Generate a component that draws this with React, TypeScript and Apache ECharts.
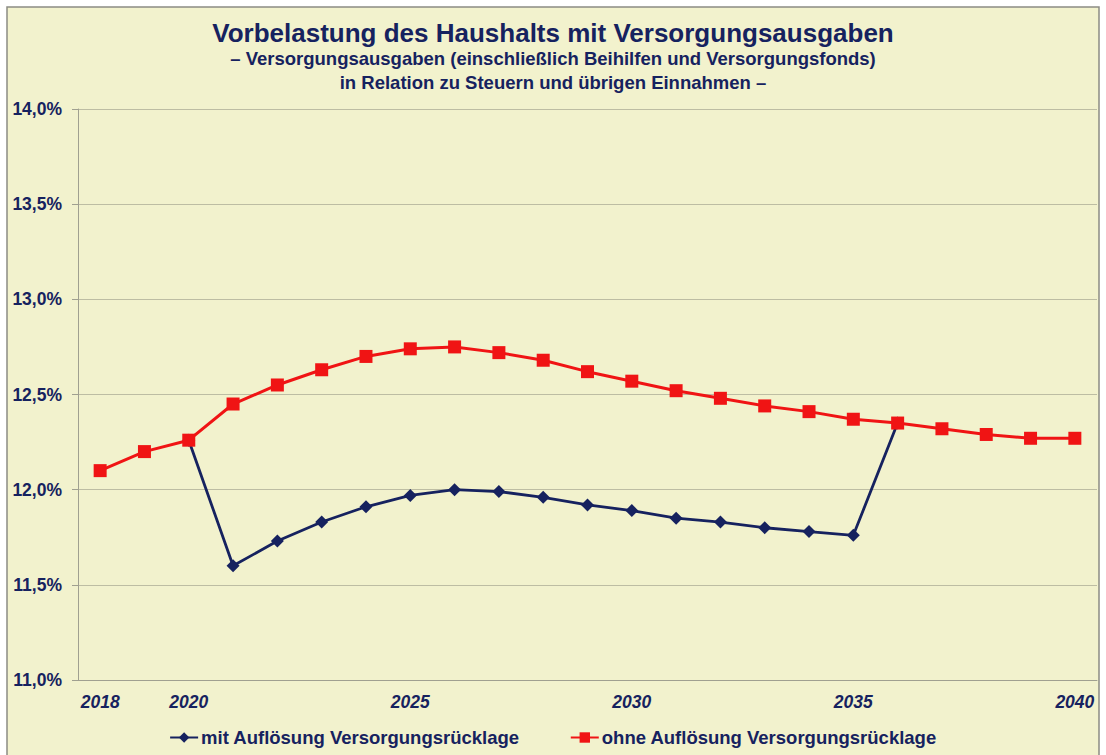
import React, { useEffect, useRef } from "react";
import * as echarts from "echarts";

const years = ["2018","2019","2020","2021","2022","2023","2024","2025","2026","2027","2028","2029","2030","2031","2032","2033","2034","2035","2036","2037","2038","2039","2040"];
const mitAufloesung: (number | null)[] = [null, null, 12.26, 11.60, 11.73, 11.83, 11.91, 11.97, 12.00, 11.99, 11.96, 11.92, 11.89, 11.85, 11.83, 11.80, 11.78, 11.76, 12.35, null, null, null, null];
const ohneAufloesung: number[] = [12.10, 12.20, 12.26, 12.45, 12.55, 12.63, 12.70, 12.74, 12.75, 12.72, 12.68, 12.62, 12.57, 12.52, 12.48, 12.44, 12.41, 12.37, 12.35, 12.32, 12.29, 12.27, 12.27];
const shownYearLabels = ["2018", "2020", "2025", "2030", "2035", "2040"];
const seriesNames = ["mit Auflösung Versorgungsrücklage", "ohne Auflösung Versorgungsrücklage"];
const titleText = "Vorbelastung des Haushalts mit Versorgungsausgaben";
const subtitleLines = [
  "– Versorgungsausgaben (einschließlich Beihilfen und Versorgungsfonds)",
  "in Relation zu Steuern und übrigen Einnahmen –",
];

const NAVY = "#16225f";
const RED = "#f01414";
const FONT = "'Liberation Sans', Arial, sans-serif";

export default function App() {
  const ref = useRef<HTMLDivElement>(null);
  useEffect(() => {
    if (!ref.current) return;
    const chart = echarts.init(ref.current, null, { renderer: "svg" });
    chart.setOption({
      animation: false,
      backgroundColor: "#ffffff",
      textStyle: { fontFamily: FONT },
      graphic: [
        {
          type: "rect",
          z: -10,
          shape: { x: 7, y: 7, width: 1092, height: 760 },
          style: { fill: "#f2f2cd", stroke: "#8c8c84", lineWidth: 1.5 },
        },
      ],
      title: {
        text: titleText,
        subtext: subtitleLines.join("\n"),
        left: "center",
        top: 20,
        padding: 0,
        itemGap: 0,
        textStyle: { fontSize: 26, fontWeight: "bold", color: NAVY, fontFamily: FONT, lineHeight: 26 },
        subtextStyle: { fontSize: 18.5, fontWeight: "bold", color: NAVY, fontFamily: FONT, lineHeight: 24 },
      },
      legend: {
        top: 723,
        left: "center",
        itemGap: 50,
        itemWidth: 28,
        itemHeight: 13,
        textStyle: { fontSize: 18.5, fontWeight: "bold", color: NAVY, fontFamily: FONT, padding: [0, 0, 0, -2] },
        data: seriesNames,
      },
      grid: { left: 78, right: 9, top: 109, bottom: 75 },
      xAxis: {
        type: "category",
        data: years,
        boundaryGap: true,
        axisLine: { show: true, lineStyle: { color: "#a0a090", width: 1 } },
        axisTick: { show: false },
        axisLabel: {
          interval: (_i: number, v: string) => shownYearLabels.includes(v),
          margin: 13,
          fontSize: 17.5,
          fontWeight: "bold",
          fontStyle: "italic",
          color: NAVY,
          fontFamily: FONT,
        },
      },
      yAxis: {
        type: "value",
        min: 11,
        max: 14,
        interval: 0.5,
        axisLine: { show: true, lineStyle: { color: "#a0a090", width: 1 } },
        axisTick: { show: true, length: 6, lineStyle: { color: "#a0a090" } },
        splitLine: { show: true, lineStyle: { color: "#bdbda3", width: 1 } },
        axisLabel: {
          margin: 16,
          fontSize: 17.5,
          fontWeight: "bold",
          color: NAVY,
          fontFamily: FONT,
          formatter: (v: number) => v.toFixed(1).replace(".", ",") + "%",
        },
      },
      series: [
        {
          name: seriesNames[0],
          type: "line",
          data: mitAufloesung,
          symbol: "diamond",
          symbolSize: 13,
          color: NAVY,
          lineStyle: { color: NAVY, width: 2.8 },
          itemStyle: { color: NAVY },
          z: 3,
        },
        {
          name: seriesNames[1],
          type: "line",
          data: ohneAufloesung,
          symbol: "rect",
          symbolSize: 13,
          color: RED,
          lineStyle: { color: RED, width: 3 },
          itemStyle: { color: RED },
          z: 4,
        },
      ],
    });
    return () => chart.dispose();
  }, []);
  return (
    <div
      ref={ref}
      style={{ position: "fixed", left: 0, top: 0, width: 1106, height: 755 }}
    />
  );
}
